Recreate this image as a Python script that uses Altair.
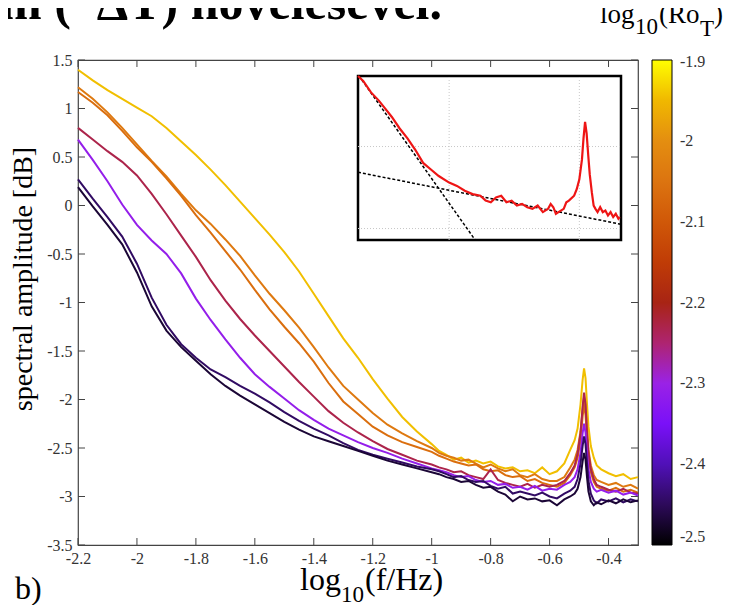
import altair as alt
import pandas as pd

# ---------------- data ----------------
x_grid = [-2.2, -2.15, -2.1, -2.05, -2.0, -1.95, -1.9, -1.85, -1.8, -1.75, -1.7, -1.65, -1.6,
          -1.55, -1.5, -1.45, -1.4, -1.35, -1.3, -1.25, -1.2, -1.15, -1.1, -1.05, -1.0,
          -0.975, -0.95, -0.925, -0.9, -0.875, -0.85, -0.825, -0.8, -0.775, -0.75, -0.725,
          -0.7, -0.675, -0.65, -0.625, -0.6,
          -0.575, -0.55, -0.53, -0.515, -0.505, -0.495, -0.488, -0.483, -0.478, -0.473,
          -0.468, -0.46, -0.45, -0.44, -0.425, -0.4, -0.375, -0.35, -0.325, -0.3]

yellow = [1.40, 1.29, 1.19, 1.10, 1.01, 0.92, 0.80, 0.66, 0.52, 0.37, 0.21, 0.04, -0.13,
          -0.30, -0.48, -0.68, -0.91, -1.14, -1.37, -1.57, -1.79, -1.99, -2.18, -2.33, -2.46,
          -2.53, -2.57, -2.62, -2.60, -2.65, -2.63, -2.66, -2.64, -2.69, -2.71, -2.70,
          -2.74, -2.73, -2.76, -2.70, -2.77,
          -2.74, -2.66, -2.52, -2.42, -2.30, -2.05, -1.80, -1.68, -1.78, -2.05,
          -2.28, -2.48, -2.60, -2.68, -2.72, -2.76, -2.79, -2.77, -2.82, -2.80]

orange_a = [1.22, 1.10, 0.96, 0.80, 0.63, 0.46, 0.30, 0.12, -0.05, -0.19, -0.35, -0.52, -0.72,
            -0.91, -1.08, -1.26, -1.46, -1.67, -1.86, -2.00, -2.14, -2.26, -2.35, -2.43, -2.50,
            -2.55, -2.58, -2.60, -2.63, -2.62, -2.66, -2.70, -2.67, -2.71, -2.74, -2.72,
            -2.78, -2.80, -2.77, -2.82, -2.84,
            -2.84, -2.80, -2.70, -2.62, -2.52, -2.33, -2.10, -1.97, -2.08, -2.32,
            -2.52, -2.68, -2.78, -2.83, -2.85, -2.88, -2.86, -2.90, -2.88, -2.92]

orange_b = [1.17, 1.06, 0.93, 0.77, 0.60, 0.45, 0.28, 0.10, -0.10, -0.28, -0.47, -0.66, -0.87,
            -1.07, -1.25, -1.42, -1.61, -1.83, -2.02, -2.15, -2.28, -2.37, -2.44, -2.49, -2.54,
            -2.58, -2.61, -2.64, -2.66, -2.68, -2.67, -2.72, -2.74, -2.73, -2.78, -2.80,
            -2.79, -2.84, -2.82, -2.86, -2.88,
            -2.90, -2.86, -2.78, -2.70, -2.60, -2.42, -2.18, -2.05, -2.16, -2.40,
            -2.60, -2.75, -2.85, -2.90, -2.92, -2.94, -2.91, -2.95, -2.93, -2.96]

crimson = [0.80, 0.68, 0.56, 0.45, 0.31, 0.12, -0.09, -0.31, -0.53, -0.77, -0.98, -1.17, -1.34,
           -1.50, -1.66, -1.82, -1.97, -2.12, -2.24, -2.34, -2.43, -2.51, -2.57, -2.63, -2.67,
           -2.70, -2.72, -2.75, -2.74, -2.78, -2.80, -2.82, -2.72, -2.83, -2.86, -2.88,
           -2.90, -2.87, -2.91, -2.88, -2.90,
           -2.88, -2.84, -2.76, -2.68, -2.56, -2.35, -2.08, -1.93, -2.05, -2.33,
           -2.55, -2.72, -2.82, -2.88, -2.90, -2.93, -2.95, -2.92, -2.96, -2.97]

purple = [0.68, 0.47, 0.25, 0.01, -0.20, -0.36, -0.50, -0.70, -0.96, -1.18, -1.38, -1.57, -1.74,
          -1.87, -1.99, -2.11, -2.21, -2.30, -2.37, -2.44, -2.50, -2.55, -2.61, -2.66, -2.71,
          -2.73, -2.75, -2.78, -2.80, -2.79, -2.83, -2.85, -2.84, -2.88, -2.87, -2.91,
          -2.90, -2.93, -2.89, -2.94, -2.92,
          -2.93, -2.88, -2.85, -2.80, -2.72, -2.55, -2.35, -2.25, -2.34, -2.55,
          -2.72, -2.85, -2.92, -2.95, -2.93, -2.96, -2.94, -2.98, -2.96, -2.99]

dark_a = [0.27, 0.07, -0.12, -0.32, -0.60, -0.95, -1.23, -1.43, -1.57, -1.69, -1.77, -1.86, -1.94,
          -2.03, -2.13, -2.22, -2.30, -2.37, -2.45, -2.52, -2.57, -2.61, -2.65, -2.69, -2.72,
          -2.74, -2.77, -2.80, -2.79, -2.83, -2.85, -2.84, -2.89, -2.92, -2.90, -2.97,
          -2.95, -2.97, -2.99, -2.96, -3.00,
          -3.02, -2.97, -2.94, -2.90, -2.82, -2.66, -2.48, -2.38, -2.46, -2.66,
          -2.84, -2.97, -3.04, -3.07, -3.03, -3.05, -3.02, -3.06, -3.03, -3.05]

dark_b = [0.19, -0.01, -0.20, -0.40, -0.69, -1.04, -1.29, -1.46, -1.60, -1.74, -1.86, -1.96, -2.05,
          -2.14, -2.23, -2.31, -2.38, -2.43, -2.48, -2.53, -2.58, -2.63, -2.67, -2.71, -2.75,
          -2.77, -2.80, -2.82, -2.85, -2.84, -2.88, -2.91, -2.90, -2.95, -2.98, -3.05,
          -3.00, -3.03, -3.02, -3.05, -3.04,
          -3.09, -3.03, -3.00, -2.97, -2.92, -2.80, -2.64, -2.55, -2.62, -2.80,
          -2.95, -3.05, -3.09, -3.06, -3.08, -3.04, -3.07, -3.03, -3.06, -3.04]

series_names = ["s1", "s2", "s3", "s4", "s5", "s6", "s7"]
series_ro = [-1.945, -2.04, -2.06, -2.23, -2.31, -2.445, -2.47]
series_vals = [yellow, orange_a, orange_b, crimson, purple, dark_a, dark_b]

# colour bar palette (log10 Ro_T -> colour)
pal_domain = [-2.5, -2.45, -2.4, -2.35, -2.3, -2.25, -2.2, -2.15, -2.1, -2.05, -2.0, -1.95, -1.9]
pal_colors = ["#000000", "#2d0a5a", "#5010b8", "#7a10f8", "#9a22e6", "#ae2470", "#a82414",
              "#c03c06", "#d05808", "#dc7410", "#e48e10", "#f0b800", "#ffff00"]
legend_values = [-2.0, -2.1, -2.2, -2.3, -2.4, -2.5]
legend_top_label = "-1.9"

x_ticks = [-2.2, -2.0, -1.8, -1.6, -1.4, -1.2, -1.0, -0.8, -0.6, -0.4]
y_ticks = [1.5, 1.0, 0.5, 0.0, -0.5, -1.0, -1.5, -2.0, -2.5, -3.0, -3.5]

# inset spectrum and fits
inset_x = [-1.35, -1.33, -1.30, -1.27, -1.25, -1.22, -1.19, -1.16, -1.13, -1.10, -1.07, -1.04,
           -1.00, -0.97, -0.94, -0.91, -0.88, -0.86, -0.84, -0.82, -0.80, -0.78, -0.76, -0.74,
           -0.72, -0.70, -0.68, -0.66, -0.64, -0.62, -0.61, -0.60, -0.59, -0.58, -0.56, -0.55,
           -0.54, -0.52, -0.51, -0.50, -0.49, -0.484, -0.478, -0.472, -0.466, -0.46, -0.452,
           -0.445, -0.438, -0.43, -0.42, -0.41, -0.40, -0.39, -0.38, -0.37, -0.36, -0.35, -0.345]
inset_y = [-2.07, -2.10, -2.17, -2.22, -2.26, -2.32, -2.39, -2.45, -2.52, -2.60, -2.64, -2.68,
           -2.72, -2.74, -2.77, -2.79, -2.80, -2.83, -2.84, -2.81, -2.80, -2.84, -2.83, -2.86,
           -2.85, -2.87, -2.88, -2.86, -2.90, -2.88, -2.85, -2.87, -2.91, -2.90, -2.88, -2.84,
           -2.83, -2.80, -2.76, -2.70, -2.58, -2.45, -2.35, -2.42, -2.55, -2.67, -2.78,
           -2.86, -2.88, -2.90, -2.87, -2.90, -2.89, -2.92, -2.90, -2.93, -2.91, -2.94, -2.93]
fit_steep_x = [-1.346, -0.90]
fit_steep_y = [-2.07, -3.07]
fit_flat_x = [-1.35, -0.34]
fit_flat_y = [-2.657, -2.974]
inset_xdomain = [-1.35, -0.34]
inset_ydomain = [-3.07, -2.07]
inset_grid_x = [-1.0, -0.5]
inset_grid_y = [-2.5, -3.0]

# ---------------- layout constants ----------------
W, H = 560, 485
SERIF = "Liberation Serif"
FIX_MINUS = "replace(format(datum.value, ''), '\u2212', '-')"

rows = []
for name, ro, vals in zip(series_names, series_ro, series_vals):
    for i, (xv, yv) in enumerate(zip(x_grid, vals)):
        rows.append({"series": name, "ro": ro, "x": xv, "y": yv, "i": i})
curves_df = pd.DataFrame(rows)

xs = alt.Scale(domain=[-2.2, -0.3], nice=False, zero=False)
ys = alt.Scale(domain=[-3.5, 1.5], nice=False, zero=False)
ixs = alt.Scale(domain=inset_xdomain, range=[280, 543], nice=False, zero=False)
iys = alt.Scale(domain=inset_ydomain, range=[180, 16], nice=False, zero=False)
cbar_scale = alt.Scale(domain=[-2.5, -1.9], range=[H, 0], nice=False, zero=False)

curves = alt.Chart(curves_df).mark_line(strokeWidth=2).encode(
    x=alt.X("x:Q", scale=xs, title=None,
            axis=alt.Axis(values=x_ticks, labelExpr=FIX_MINUS, labelPadding=5,
                          labelFlush=False)),
    y=alt.Y("y:Q", scale=ys, title=None,
            axis=alt.Axis(values=y_ticks, labelExpr=FIX_MINUS, labelPadding=6,
                          labelFlush=False)),
    color=alt.Color("ro:Q",
                    scale=alt.Scale(domain=pal_domain, range=pal_colors, interpolate="rgb"),
                    legend=alt.Legend(orient="none", legendX=574, legendY=0,
                                      direction="vertical", title=None,
                                      gradientLength=H, gradientThickness=20,
                                      gradientStrokeColor="#000", gradientStrokeWidth=1,
                                      values=legend_values, labelExpr=FIX_MINUS,
                                      labelFont=SERIF, labelFontSize=16, labelColor="#333",
                                      labelOffset=8, labelOverlap=False,
                                      labelBaseline="middle")),
    detail="series:N",
    order="i:Q",
)

xt = pd.DataFrame({"t": x_ticks})
yt = pd.DataFrame({"t": y_ticks})
ct = pd.DataFrame({"t": legend_values[:-1]})
tick_color = "#444"
xtick_bottom = alt.Chart(xt).mark_rule(color=tick_color).encode(
    x=alt.X("t:Q", scale=xs, axis=None), y=alt.value(H), y2=alt.value(H - 7))
xtick_top = alt.Chart(xt).mark_rule(color=tick_color).encode(
    x=alt.X("t:Q", scale=xs, axis=None), y=alt.value(0), y2=alt.value(7))
ytick_left = alt.Chart(yt).mark_rule(color=tick_color).encode(
    y=alt.Y("t:Q", scale=ys, axis=None), x=alt.value(0), x2=alt.value(7))
ytick_right = alt.Chart(yt).mark_rule(color=tick_color).encode(
    y=alt.Y("t:Q", scale=ys, axis=None), x=alt.value(W - 7), x2=alt.value(W))
cbar_tick_l = alt.Chart(ct).mark_rule(color="#222").encode(
    y=alt.Y("t:Q", scale=cbar_scale, axis=None), x=alt.value(574), x2=alt.value(579))
cbar_tick_r = alt.Chart(ct).mark_rule(color="#222").encode(
    y=alt.Y("t:Q", scale=cbar_scale, axis=None), x=alt.value(589), x2=alt.value(594))

# inset
box_df = pd.DataFrame({"x0": [inset_xdomain[0]], "x1": [inset_xdomain[1]],
                       "y0": [inset_ydomain[0]], "y1": [inset_ydomain[1]]})
inset_box = alt.Chart(box_df).mark_rect(fill="white", stroke="black", strokeWidth=2.5).encode(
    x=alt.X("x0:Q", scale=ixs, axis=None), x2="x1:Q",
    y=alt.Y("y0:Q", scale=iys, axis=None), y2="y1:Q")
gx = pd.DataFrame({"g": inset_grid_x, "lo": inset_ydomain[0], "hi": inset_ydomain[1]})
gy = pd.DataFrame({"g": inset_grid_y, "lo": inset_xdomain[0], "hi": inset_xdomain[1]})
inset_gx = alt.Chart(gx).mark_rule(color="#c8c8c8", strokeDash=[1, 2], strokeWidth=1).encode(
    x=alt.X("g:Q", scale=ixs, axis=None),
    y=alt.Y("lo:Q", scale=iys, axis=None), y2="hi:Q")
inset_gy = alt.Chart(gy).mark_rule(color="#c8c8c8", strokeDash=[1, 2], strokeWidth=1).encode(
    y=alt.Y("g:Q", scale=iys, axis=None),
    x=alt.X("lo:Q", scale=ixs, axis=None), x2="hi:Q")
inset_curve = alt.Chart(pd.DataFrame({"x": inset_x, "y": inset_y})).mark_line(
    color="#ee1515", strokeWidth=2.2).encode(
    x=alt.X("x:Q", scale=ixs, axis=None), y=alt.Y("y:Q", scale=iys, axis=None))
fit1 = alt.Chart(pd.DataFrame({"x": fit_steep_x, "y": fit_steep_y})).mark_line(
    color="black", strokeDash=[3, 2], strokeWidth=1.5).encode(
    x=alt.X("x:Q", scale=ixs, axis=None), y=alt.Y("y:Q", scale=iys, axis=None))
fit2 = alt.Chart(pd.DataFrame({"x": fit_flat_x, "y": fit_flat_y})).mark_line(
    color="black", strokeDash=[3, 2], strokeWidth=1.5).encode(
    x=alt.X("x:Q", scale=ixs, axis=None), y=alt.Y("y:Q", scale=iys, axis=None))

# texts
one = pd.DataFrame({"a": [0]})


def txt(s, x, y, size, weight="normal", angle=0, align="left", color="black",
        baseline="alphabetic"):
    mk = alt.Chart(one).mark_text(text=s, font=SERIF, fontSize=size, fontWeight=weight,
                                  align=align, baseline=baseline, color=color,
                                  angle=angle)
    return mk.encode(x=alt.value(x), y=alt.value(y))


texts = [
    txt("m (~\u0394T) növelésével.", -78, -41, 50, weight="bold"),
    txt("spectral amplitude [dB]", -46, 219, 28, angle=270, align="center"),
    txt("log", 222, 530, 32),
    txt("10", 263, 542, 23),
    txt("(f/Hz)", 287, 530, 32),
    txt("b)", -63, 539, 32),
    txt("log", 522, -37, 27),
    txt("10", 557, -26, 23),
    txt("(Ro", 581, -37, 27),
    txt("T", 622, -24, 23),
    txt(")", 636, -37, 27),
    txt(legend_top_label, 602, 2, 16, color="#333", baseline="middle"),
]

layers = [xtick_bottom, xtick_top, ytick_left, ytick_right, curves, cbar_tick_l, cbar_tick_r,
          inset_box, inset_gx, inset_gy, fit1, fit2, inset_curve] + texts

chart = alt.layer(*layers).resolve_scale(
    x="independent", y="independent"
).properties(
    width=W, height=H,
    autosize=alt.AutoSizeParams(type="none"),
    padding={"left": 70, "top": 52, "right": 90, "bottom": 60},
    background="white",
).configure_view(
    stroke="#444", strokeWidth=1.2
).configure_axis(
    domain=False, ticks=False, grid=False,
    labelFont=SERIF, labelFontSize=16, labelColor="#333",
)

chart.save("out.html", embed_options={"renderer": "svg", "actions": False})
